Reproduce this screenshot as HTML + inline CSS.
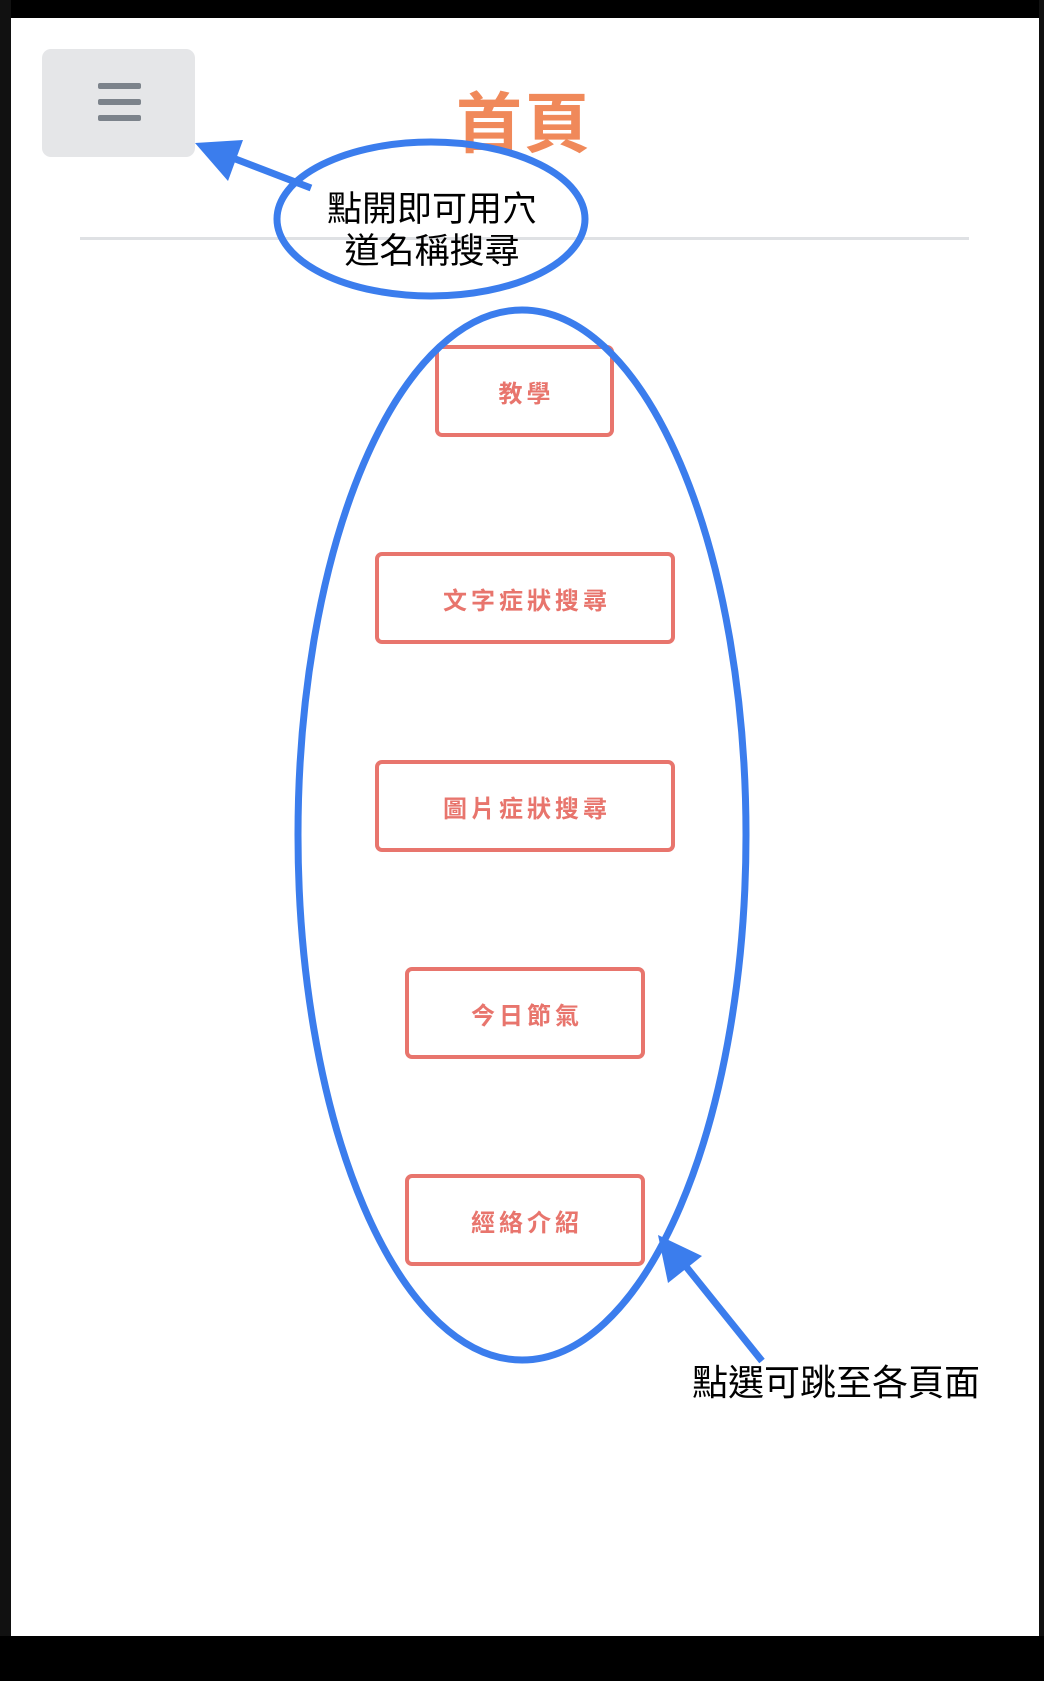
<!DOCTYPE html>
<html><head><meta charset="utf-8"><style>
html,body{margin:0;padding:0;width:1044px;height:1681px;overflow:hidden;background:#fff;position:relative;font-family:"Liberation Sans","Noto Sans CJK TC",sans-serif}
.abs{position:absolute}
.btn{position:absolute;border:4px solid #e8756d;border-radius:7px;box-sizing:border-box;color:#e8756d;font-weight:bold;font-size:24px;letter-spacing:4px;display:flex;align-items:center;justify-content:center;padding-left:4px}
</style></head><body>
<div class="abs" style="left:0;top:0;width:1044px;height:18px;background:#000"></div>
<div class="abs" style="left:0;top:0;width:11px;height:1681px;background:#111"></div>
<div class="abs" style="left:1039px;top:0;width:5px;height:1681px;background:#111"></div>
<div class="abs" style="left:0;top:1636px;width:1044px;height:45px;background:#000"></div>
<div class="abs" style="left:42px;top:49px;width:153px;height:108px;background:#e5e6e8;border-radius:9px"></div>
<div class="abs" style="left:98px;top:83px;width:43px;height:6px;background:#7c838b;border-radius:2px"></div>
<div class="abs" style="left:98px;top:99px;width:43px;height:6px;background:#7c838b;border-radius:2px"></div>
<div class="abs" style="left:98px;top:115px;width:43px;height:6px;background:#7c838b;border-radius:2px"></div>
<div class="abs" style="left:424px;top:84px;width:200px;text-align:center;font-size:66px;font-weight:bold;color:#f0895a;line-height:80px;letter-spacing:2px">首頁</div>
<div class="abs" style="left:80px;top:237px;width:889px;height:3px;background:#dfe1e4"></div>
<div class="btn" style="left:435px;top:345px;width:179px;height:92px">教學</div>
<div class="btn" style="left:375px;top:552px;width:300px;height:92px">文字症狀搜尋</div>
<div class="btn" style="left:375px;top:760px;width:300px;height:92px">圖片症狀搜尋</div>
<div class="btn" style="left:405px;top:967px;width:240px;height:92px">今日節氣</div>
<div class="btn" style="left:405px;top:1174px;width:240px;height:92px">經絡介紹</div>
<svg class="abs" style="left:0;top:0" width="1044" height="1681">
<g fill="none" stroke="#3b7ded" stroke-width="7">
<ellipse cx="431" cy="219" rx="154" ry="77"/>
<ellipse cx="522" cy="835" rx="224" ry="525"/>
<line x1="311" y1="188" x2="225" y2="155"/>
<line x1="762" y1="1361" x2="684" y2="1264"/>
</g>
<polygon points="195,143 243,140 228,181" fill="#3b7ded"/>
<polygon points="658,1235 702,1256 668,1283" fill="#3b7ded"/>
</svg>
<div class="abs" style="left:290px;top:189px;width:284px;text-align:center;font-size:35px;line-height:42px;color:#000">點開即可用穴<br>道名稱搜尋</div>
<div class="abs" style="left:692px;top:1361px;width:330px;font-size:36px;line-height:44px;color:#000">點選可跳至各頁面</div>
</body></html>
